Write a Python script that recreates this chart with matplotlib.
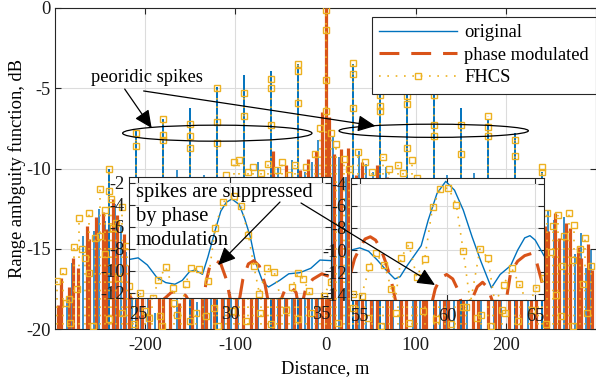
import matplotlib.pyplot as plt
from matplotlib.lines import Line2D
from matplotlib.patches import Ellipse, FancyArrowPatch

plt.rcParams['font.family'] = ['Liberation Serif', 'DejaVu Serif']
plt.rcParams['axes.unicode_minus'] = False
plt.rcParams['font.size'] = 13.3

BLUE = '#0072BD'
ORANGE = '#D95319'
YELLOW = '#EDB120'
INK = '#262626'
DASH = (6.5, 3.9)
DOT = (1, 4)

# ---- main chart: periodic spikes (original / FHCS) ----
spike_x = [-240, -210, -180, -150, -120, -90, -60, -30, 0, 30, 60, 90, 120, 150, 180, 210, 240]
blue_spike_top = [-10.0, -7.6, -6.9, -6.2, -4.9, -4.2, -3.9, -3.5, 0, -3.5, -4.7, -5.3, -5.2, -6.2, -7.0, -7.8, -10.2]
fhcs_spike_top = [-10.0, -7.8, -6.9, -7.2, -5.0, -5.3, -4.4, -3.5, 0, -3.4, -5.4, -5.5, -5.4, -7.3, -6.7, -8.2, -9.9]

fhcs_mark_x = [-240, -240, -210, -210, -180, -180, -180, -150, -150, -150, -120, -120, -120,
               -90, -90, -60, -60, -60, -30, -30, -30, 0, 0, 0, 0, 30, 30, 30, 60, 60, 60,
               90, 90, 90, 120, 120, 120, 150, 150, 180, 180, 180, 210, 210, 240, 240]
fhcs_mark_y = [-10.0, -11.4, -7.8, -8.6, -6.9, -7.9, -8.2, -7.2, -8.0, -8.7, -5.0, -7.1, -8.4,
               -5.3, -6.7, -4.4, -5.0, -7.3, -3.5, -3.9, -5.9, -0.1, -1.4, -4.5, -6.4, -3.4, -4.1, -6.2,
               -5.4, -6.1, -6.4, -5.5, -6.0, -8.7, -5.4, -7.3, -8.0, -7.3, -9.1, -6.7, -7.4, -8.0,
               -8.2, -9.2, -9.9, -10.2]

# ---- main chart: sidelobe clutter ----
blue_x = [-293, -287, -281, -275, -269, -263, -257, -251, -245, -233, -227, -221, -215, -205,
          -197, -189, -173, -165, -157, -143, -135, -127, -113, -105, -97, -83, -75, -67, -53,
          -45, -37, -23, -15, -8, 8, 15, 23, 37, 45, 53, 67, 75, 83, 97, 105, 113, 127, 135,
          143, 157, 165, 173, 187, 195, 203, 217, 225, 233, 247, 253, 259, 265, 271, 277, 283,
          289, 295]
blue_top = [-17.2, -18.0, -15.9, -16.8, -14.2, -15.1, -13.9, -12.5, -13.3, -12.2, -13.6, -15.2,
            -17.4, -18.6, -17.0, -19.0, -16.4, -10.1, -17.9, -18.3, -10.4, -16.9, -14.8, -12.0,
            -10.9, -11.4, -9.6, -10.6, -9.9, -10.8, -9.5, -10.2, -9.6, -8.2, -8.0, -9.3, -10.5,
            -8.9, -9.7, -10.2, -9.9, -10.6, -11.8, -10.9, -12.6, -11.5, -13.5, -10.4, -15.9,
            -17.1, -10.3, -16.8, -18.2, -17.4, -18.9, -16.6, -15.7, -14.1, -12.6, -13.2, -14.8,
            -13.0, -14.4, -15.3, -14.0, -16.2, -15.1]

orange_x = [-297, -293, -285, -280, -274, -265, -262, -255, -247, -243, -236, -231, -223, -218,
            -209, -203, -196, -185, -180, -172, -163, -157, -148, -137, -132, -124, -115, -108,
            -99, -92, -83, -77, -67, -58, -52, -44, -35, -28, -19, -10, -4, 0, 4, 9, 17, 25, 34,
            41, 51, 57, 68, 73, 84, 89, 99, 108, 112, 121, 131, 136, 147, 153, 164, 169, 180,
            188, 192, 204, 211, 217, 228, 233, 243, 247, 255, 259, 267, 271, 280, 283, 291, 296]
orange_top = [-18.5, -16.8, -17.4, -15.6, -16.2, -13.6, -14.4, -13.0, -12.7, -13.8, -11.9, -12.9,
              -14.1, -16.0, -17.2, -15.8, -18.1, -16.6, -17.5, -15.2, -18.4, -16.9, -17.8, -15.5,
              -16.3, -14.2, -15.9, -12.8, -13.7, -11.6, -12.4, -10.9, -11.8, -8.9, -10.6, -9.8,
              -11.2, -10.1, -9.4, -8.9, -6.5, 0, -6.8, -9.1, -8.8, -8.7, -10.4, -9.6, -11.0, -9.8,
              -10.5, -12.1, -11.3, -13.2, -12.6, -14.0, -13.1, -15.3, -14.6, -16.8, -15.4, -17.6,
              -16.1, -18.2, -15.9, -17.1, -16.4, -18.0, -15.7, -17.3, -14.8, -15.9, -13.6, -13.9,
              -12.8, -14.3, -13.4, -13.7, -14.9, -15.6, -14.7, -16.3]

fhcs_x = [-298, -291, -285, -279, -273, -267, -262, -256, -250, -244, -238, -232, -226, -220,
          -214, -200, -192, -184, -168, -160, -144, -136, -124, -110, -102, -96, -86, -80, -72,
          -64, -54, -48, -40, -34, -22, -12, -6, 6, 12, 20, 26, 36, 44, 52, 64, 70, 80, 86, 96,
          102, 110, 126, 132, 144, 156, 172, 186, 196, 216, 226, 236, 246, 252, 258, 264, 270,
          276, 282, 288, 294]
fhcs_top = [-17.0, -16.4, -18.1, -14.9, -13.1, -15.6, -12.8, -14.3, -11.3, -12.6, -11.9, -13.4,
            -12.4, -14.8, -16.3, -18.9, -17.6, -19.2, -18.4, -17.0, -19.0, -16.2, -18.7, -10.4,
            -9.6, -9.5, -10.2, -9.9, -10.3, -9.7, -10.1, -9.6, -10.4, -9.8, -9.9, -9.1, -7.5,
            -7.8, -8.5, -9.4, -10.0, -9.0, -9.6, -10.2, -9.3, -10.0, -9.8, -10.3, -9.5, -10.6,
            -11.4, -14.6, -16.0, -17.8, -18.6, -19.1, -17.4, -18.8, -16.5, -17.9, -14.1, -12.8,
            -13.6, -12.9, -14.2, -12.8, -13.5, -15.0, -14.3, -16.1]
fhcs_low_x = [-288, -283, -276, -270, -262, -258, -250, -244, -240, -236, -230, -226, -212, -196,
              -181, -165, -150, -133, -119, -104, -88, -73, -60, -44, -30, -16, 14, 30, 47, 62,
              78, 93, 108, 123, 139, 152, 168, 183, 199, 214, 229, 245, 250, 256, 261, 262, 274,
              275, 286, 290]
fhcs_low_y = [-18.4, -19.6, -17.5, -15.0, -16.5, -19.8, -14.2, -15.3, -19.4, -13.7, -16.8, -19.0,
              -19.7, -19.3, -19.8, -19.1, -19.5, -19.2, -19.8, -18.9, -19.5, -19.0, -19.7, -18.8,
              -19.4, -19.0, -19.6, -18.7, -19.3, -19.8, -19.0, -19.6, -18.9, -19.4, -19.7, -18.6,
              -19.3, -19.8, -19.0, -19.5, -18.8, -19.7, -15.2, -17.9, -19.2, -16.1, -15.7, -19.8,
              -17.2, -19.0]

# ---- inset 1 (24.5 .. 35.5 m) ----
in1_blue_x = [24.5, 25.0, 25.5, 26.0, 26.5, 27.0, 27.4, 27.8, 28.1, 28.5, 28.8, 29.2, 29.5, 29.8,
              30.1, 30.5, 30.8, 31.1, 31.4, 31.8, 32.1, 32.7, 33.2, 33.8, 34.4, 34.9, 35.5]
in1_blue_y = [-9.0, -8.85, -9.5, -10.6, -11.1, -11.25, -10.9, -10.1, -9.95, -10.35, -8.75, -6.3,
              -4.6, -3.8, -3.5, -4.0, -5.3, -6.9, -9.3, -11.1, -11.5, -10.9, -10.3, -10.2, -9.8,
              -9.05, -9.1]
in1_pm_x = [24.5, 24.8, 25.2, 26.0, 26.4, 26.8, 27.2, 27.6, 28.0, 28.3, 28.5, 28.7, 28.9, 29.2,
            29.5, 29.8, 30.0, 30.2, 30.5, 30.7, 31.0, 31.3, 31.6, 31.9, 32.1, 32.3, 32.7, 33.0,
            33.3, 33.6, 33.8, 34.1, 34.5, 35.0, 35.5]
in1_pm_y = [-12.2, -13.0, -15.0, -14.5, -12.6, -12.0, -11.85, -12.3, -13.5, -16.0, -13.5, -11.0,
            -9.6, -9.05, -9.4, -10.8, -12.5, -15.0, -12.8, -10.8, -9.4, -9.1, -9.6, -11.2, -13.0,
            -15.0, -13.0, -11.7, -11.45, -12.0, -14.0, -11.8, -10.8, -10.3, -10.6]
in1_fhcs_x = [24.5, 24.8, 25.1, 25.4, 25.8, 26.1, 26.5, 26.9, 27.3, 27.6, 27.85, 28.3, 28.8, 29.2,
              29.6, 30.2, 30.6, 31.0, 31.3, 31.6, 32.0, 32.4, 32.8, 33.1, 33.4, 33.7, 34.0, 34.3,
              34.7, 35.1, 35.5]
in1_fhcs_y = [-11.4, -13.5, -12.0, -14.0, -12.5, -10.9, -9.7, -11.6, -14.0, -11.2, -9.8, -9.9,
              -10.95, -6.1, -3.8, -3.2, -4.1, -6.8, -9.6, -12.1, -9.8, -10.1, -12.8, -14.0, -11.5,
              -10.25, -10.8, -11.9, -14.0, -12.3, -11.0]

# ---- inset 2 (54.5 .. 65.5 m) ----
in2_blue_x = [54.5, 55.0, 55.5, 56.0, 56.5, 57.0, 57.3, 57.7, 58.1, 58.5, 58.9, 59.4, 59.9, 60.4,
              60.9, 61.4, 61.9, 62.5, 63.0, 63.6, 64.0, 64.4, 64.7, 65.0, 65.5]
in2_blue_y = [-10.0, -9.8, -10.1, -10.9, -11.8, -12.6, -12.4, -11.4, -10.5, -9.6, -7.3, -4.9, -3.8,
              -4.6, -6.4, -8.8, -11.0, -13.4, -12.2, -11.4, -10.0, -8.9, -8.7, -9.1, -10.5]
in2_pm_x = [54.5, 54.7, 55.0, 55.3, 55.6, 55.9, 56.2, 56.5, 56.8, 57.1, 59.0, 59.3, 59.6, 59.95,
            60.3, 60.6, 60.9, 61.3, 61.7, 62.0, 62.3, 62.6, 63.3, 63.6, 64.0, 64.4, 64.8, 65.1,
            65.4, 65.5]
in2_pm_y = [-12.0, -10.8, -9.8, -9.0, -8.8, -9.1, -9.9, -11.2, -12.8, -15.0, -15.5, -13.5, -12.5,
            -12.2, -12.6, -13.6, -15.5, -14.8, -13.3, -12.9, -13.4, -14.8, -15.0, -12.0, -11.0,
            -10.5, -10.3, -11.2, -13.0, -13.8]
in2_fhcs_x = [54.6, 55.1, 55.55, 55.9, 56.4, 56.8, 57.0, 57.35, 57.8, 58.25, 58.7, 59.15, 59.6,
              60.05, 60.5, 60.9, 61.3, 61.85, 62.3, 62.7, 63.2, 63.65, 64.1, 64.6, 65.05, 65.5]
in2_fhcs_y = [-14.0, -14.1, -11.55, -10.3, -11.3, -13.5, -14.8, -10.7, -9.5, -12.45, -10.8, -6.1,
              -4.5, -4.4, -5.9, -10.1, -14.8, -9.9, -10.7, -14.8, -13.15, -11.6, -13.1, -15.0,
              -13.45, -12.5]

W, H = 596, 382


def style(a):
    a.grid(True, color='#dcdcdc', lw=0.8)
    a.set_axisbelow(True)
    for s in a.spines.values():
        s.set_color(INK)
        s.set_linewidth(0.8)
    a.tick_params(direction='in', top=True, right=True, length=4, width=0.8,
                  color=INK, labelcolor='#1a1a1a', pad=3)


fig = plt.figure(figsize=(W / 100, H / 100), dpi=100)
ax = fig.add_axes([55 / W, 1 - 329 / H, (W - 55) / W, 321 / H])
style(ax)

ax.vlines(blue_x, -30, blue_top, color=BLUE, lw=1.1, zorder=2)
ax.vlines(spike_x, -30, blue_spike_top, color=BLUE, lw=1.4, zorder=2)
ax.vlines(orange_x, -30, orange_top, color=ORANGE, lw=2.3, zorder=3)
ax.vlines(fhcs_x, -30, fhcs_top, color=YELLOW, lw=1.2, linestyles=[(0, DOT)], zorder=4)
ax.vlines(spike_x, -30, fhcs_spike_top, color=YELLOW, lw=1.2, linestyles=[(0, DOT)], zorder=4)
mk = dict(ls='none', marker='s', ms=4.5, mfc='none', mec=YELLOW, mew=1.0, zorder=4)
ax.plot(fhcs_mark_x, fhcs_mark_y, **mk)
ax.plot(fhcs_x, fhcs_top, **mk)
ax.plot(fhcs_low_x, fhcs_low_y, **mk)

ax.set_xlim(-300, 300)
ax.set_ylim(-20, 0)
ax.set_xticks([-200, -100, 0, 100, 200])
ax.set_yticks([-20, -15, -10, -5, 0])
ax.tick_params(axis='x', pad=6)
ax.set_xlabel('Distance, m', labelpad=4)
ax.set_ylabel('Range ambguity function, dB', labelpad=0)

# annotations on main axes
ax.add_patch(Ellipse((-120, -7.8), 210, 1.0, fill=False, ec='k', lw=0.9, zorder=6))
ax.add_patch(Ellipse((120, -7.65), 210, 0.82, fill=False, ec='k', lw=0.9, zorder=6))
ax.text(-197.8, -4.36, 'peoridic spikes', ha='center', va='center', zorder=7)
head = '-|>,head_length=0.6,head_width=0.28'
arrow_kw = dict(arrowstyle=head, color='k', lw=0.9, mutation_scale=18, shrinkA=0, shrinkB=0)
ax.annotate('', xy=(-192.8, -7.48), xytext=(-222.7, -5.05), arrowprops=arrow_kw, zorder=7)
ax.annotate('', xy=(55.4, -7.35), xytext=(-201.7, -5.17), arrowprops=arrow_kw, zorder=7)

handles = [Line2D([], [], color=BLUE, lw=1.0),
           Line2D([], [], color=ORANGE, lw=2.2, dashes=DASH),
           Line2D([0, 0.5, 1], [0, 0, 0], color=YELLOW, lw=1.2, dashes=DOT, marker='s', ms=4.5,
                  mfc='none', mec=YELLOW, mew=1.0, markevery=[1])]
leg = ax.legend(handles, ['original', 'phase modulated', 'FHCS'], loc='upper right',
                bbox_to_anchor=(596 / W, 1 - 17 / H), bbox_transform=fig.transFigure,
                borderaxespad=0, handlelength=4.2, handletextpad=0.4, borderpad=0.4,
                labelspacing=0.3, fancybox=False, framealpha=1, edgecolor=INK)
leg.get_frame().set_linewidth(0.8)
leg.set_zorder(8)

# insets
ins = [
    ([129 / W, 1 - 298 / H, 202 / W, 121 / H], (24.5, 35.5), (-12.5, -1.5), [25, 30, 35],
     [-12, -10, -8, -6, -4, -2], in1_blue_x, in1_blue_y, in1_pm_x, in1_pm_y, in1_fhcs_x, in1_fhcs_y),
    ([351 / W, 1 - 300 / H, 193 / W, 122 / H], (54.5, 65.5), (-14.5, -3.5), [55, 60, 65],
     [-14, -12, -10, -8, -6, -4], in2_blue_x, in2_blue_y, in2_pm_x, in2_pm_y, in2_fhcs_x, in2_fhcs_y),
]
for rect, xl, yl, xt, yt, bx, by, px, py, fx, fy in ins:
    a = fig.add_axes(rect, zorder=3)
    a.set_facecolor('white')
    style(a)
    a.plot(bx, by, color=BLUE, lw=1.0)
    a.plot(px, py, color=ORANGE, lw=2.2, dashes=DASH)
    a.plot(fx, fy, color=YELLOW, lw=1.2, dashes=DOT, marker='s', ms=4.5, mfc='none',
           mec=YELLOW, mew=1.0)
    a.set_xlim(*xl)
    a.set_ylim(*yl)
    a.set_xticks(xt)
    a.set_yticks(yt)
    a.tick_params(axis='x', pad=6)

fig.text(136 / W, 1 - 183 / H, 'spikes are suppressed\nby phase\nmodulation', fontsize=14.8,
         ha='left', va='top', linespacing=1.34, zorder=10)
for p0, p1 in [((280, 202), (218, 265)), ((301, 203), (435, 285))]:
    fa = FancyArrowPatch((p0[0] / W, 1 - p0[1] / H), (p1[0] / W, 1 - p1[1] / H),
                         transform=fig.transFigure, arrowstyle=head, mutation_scale=18,
                         color='k', lw=0.9, shrinkA=0, shrinkB=0, zorder=10)
    fig.add_artist(fa)

fig.savefig('out.png', dpi=100)
